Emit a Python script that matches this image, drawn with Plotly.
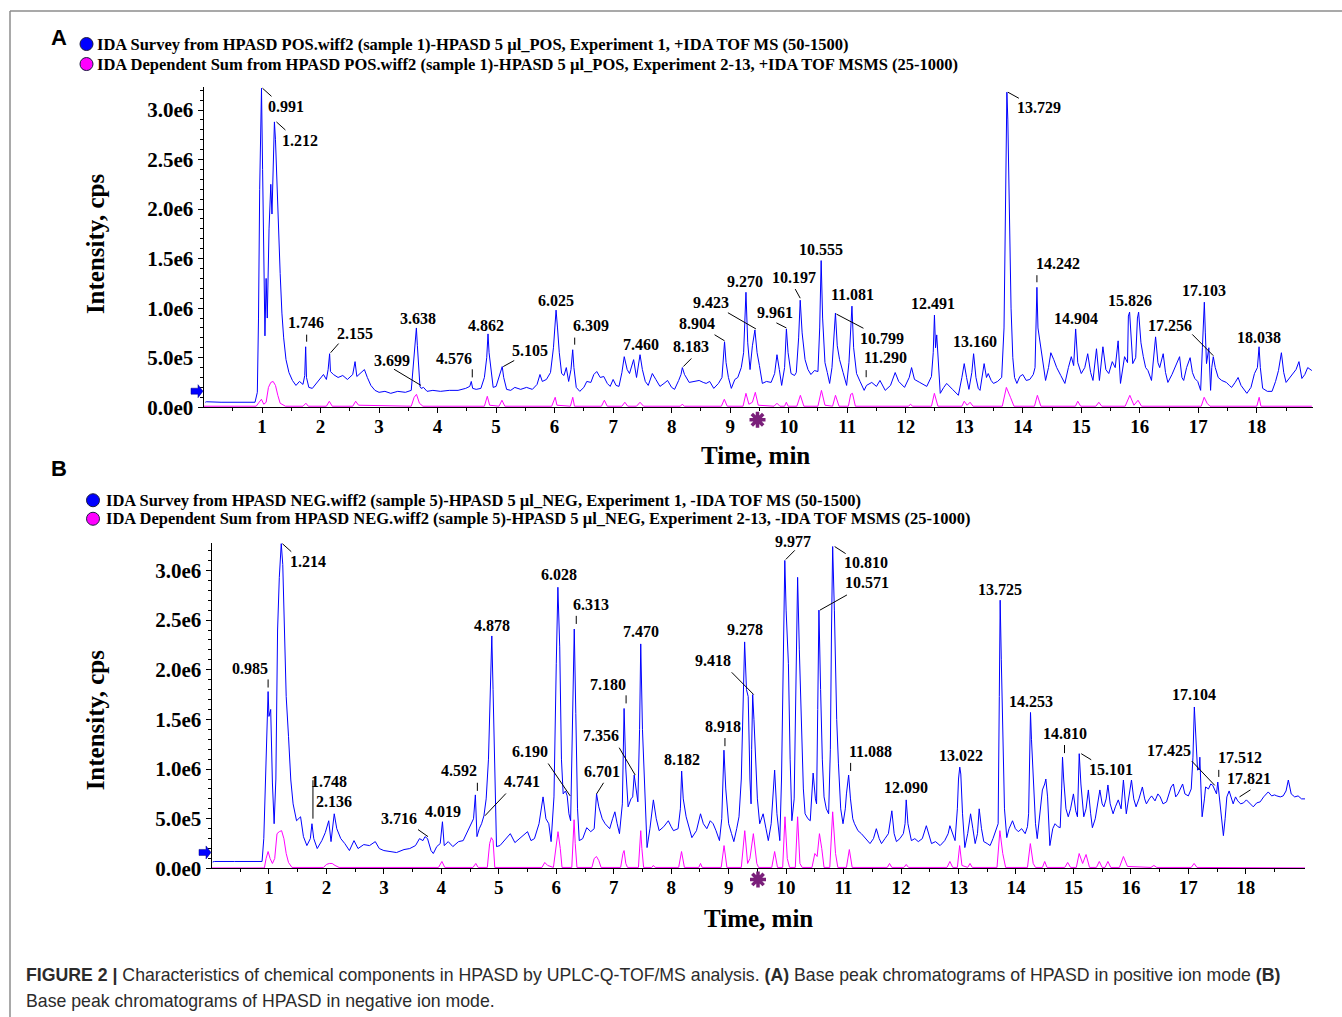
import plotly.graph_objects as go

W = 1342
H = 1030          # figure height in page pixels
SY = 1029.5 / 1017  # vertical layout scale from the 1017-px design grid to page pixels

# ---------------- Panel A: positive ion mode (intensity in 1e6 cps) ----------------
pos_survey = [
    (0.03, 0.05), (0.05, 0.055), (0.30, 0.05), (0.60, 0.05), (0.88, 0.05), (0.92, 0.15),
    (0.94, 0.9), (0.96, 2.2), (0.991, 3.22), (1.01, 2.4), (1.03, 1.35), (1.05, 0.72),
    (1.07, 1.3), (1.09, 0.9), (1.12, 1.8), (1.15, 2.25), (1.17, 1.95), (1.19, 2.4),
    (1.212, 2.88), (1.23, 2.7), (1.25, 2.35), (1.28, 1.7), (1.31, 1.35), (1.34, 0.95),
    (1.37, 0.7), (1.41, 0.48), (1.46, 0.35), (1.52, 0.27), (1.58, 0.22), (1.64, 0.26),
    (1.70, 0.23), (1.73, 0.32), (1.746, 0.61), (1.76, 0.30), (1.80, 0.20), (1.86, 0.19),
    (1.93, 0.24), (2.00, 0.30), (2.05, 0.33), (2.10, 0.28), (2.13, 0.38), (2.155, 0.54),
    (2.17, 0.36), (2.22, 0.33), (2.30, 0.30), (2.38, 0.32), (2.46, 0.28), (2.55, 0.33),
    (2.59, 0.46), (2.62, 0.31), (2.68, 0.34), (2.75, 0.38), (2.80, 0.30), (2.86, 0.22),
    (2.93, 0.17), (3.00, 0.15), (3.10, 0.16), (3.20, 0.14), (3.32, 0.16), (3.45, 0.15),
    (3.55, 0.17), (3.59, 0.45), (3.62, 0.70), (3.638, 0.80), (3.655, 0.62), (3.67, 0.45),
    (3.685, 0.26), (3.699, 0.21), (3.72, 0.19), (3.76, 0.20), (3.82, 0.16), (3.92, 0.17),
    (4.05, 0.16), (4.20, 0.17), (4.35, 0.17), (4.48, 0.19), (4.55, 0.21), (4.576, 0.26),
    (4.60, 0.19), (4.66, 0.18), (4.74, 0.19), (4.80, 0.30), (4.84, 0.50), (4.862, 0.74),
    (4.88, 0.55), (4.91, 0.40), (4.95, 0.20), (5.00, 0.21), (5.05, 0.30), (5.08, 0.36),
    (5.105, 0.41), (5.13, 0.30), (5.18, 0.18), (5.25, 0.17), (5.32, 0.20), (5.42, 0.18),
    (5.52, 0.20), (5.62, 0.18), (5.70, 0.23), (5.75, 0.33), (5.79, 0.26), (5.86, 0.28),
    (5.93, 0.35), (5.98, 0.60), (6.025, 0.98), (6.05, 0.80), (6.08, 0.55), (6.12, 0.34),
    (6.16, 0.32), (6.20, 0.40), (6.24, 0.26), (6.28, 0.38), (6.309, 0.58), (6.33, 0.40),
    (6.37, 0.20), (6.43, 0.16), (6.50, 0.20), (6.55, 0.26), (6.62, 0.25), (6.67, 0.33),
    (6.72, 0.36), (6.78, 0.30), (6.84, 0.31), (6.90, 0.24), (6.95, 0.21), (7.00, 0.28),
    (7.05, 0.22), (7.10, 0.21), (7.15, 0.35), (7.19, 0.51), (7.24, 0.38), (7.28, 0.34),
    (7.35, 0.48), (7.40, 0.30), (7.43, 0.42), (7.460, 0.53), (7.50, 0.38), (7.55, 0.26),
    (7.60, 0.22), (7.67, 0.34), (7.73, 0.28), (7.80, 0.21), (7.87, 0.24), (7.93, 0.27),
    (8.00, 0.20), (8.05, 0.18), (8.12, 0.27), (8.16, 0.33), (8.183, 0.40), (8.22, 0.33),
    (8.30, 0.25), (8.38, 0.26), (8.47, 0.27), (8.54, 0.25), (8.59, 0.24), (8.65, 0.26),
    (8.72, 0.19), (8.80, 0.24), (8.86, 0.30), (8.904, 0.66), (8.93, 0.45), (8.97, 0.30),
    (9.02, 0.19), (9.08, 0.28), (9.13, 0.30), (9.19, 0.40), (9.23, 0.55), (9.270, 1.16),
    (9.30, 0.65), (9.34, 0.38), (9.38, 0.62), (9.423, 0.78), (9.46, 0.55), (9.50, 0.42),
    (9.55, 0.24), (9.62, 0.26), (9.70, 0.25), (9.76, 0.34), (9.80, 0.53), (9.84, 0.38),
    (9.88, 0.22), (9.93, 0.40), (9.961, 0.79), (9.99, 0.55), (10.04, 0.34), (10.10, 0.32),
    (10.13, 0.35), (10.17, 0.70), (10.197, 1.08), (10.23, 0.75), (10.28, 0.48), (10.33, 0.38),
    (10.38, 0.33), (10.44, 0.37), (10.50, 0.36), (10.53, 0.80), (10.555, 1.48), (10.58, 0.90),
    (10.62, 0.45), (10.66, 0.35), (10.70, 0.24), (10.74, 0.40), (10.77, 0.75), (10.799, 0.95),
    (10.83, 0.62), (10.87, 0.48), (10.93, 0.35), (10.99, 0.22), (11.03, 0.45), (11.06, 0.80),
    (11.081, 1.02), (11.11, 0.60), (11.16, 0.34), (11.22, 0.26), (11.25, 0.22), (11.290, 0.17),
    (11.33, 0.22), (11.42, 0.25), (11.50, 0.21), (11.56, 0.27), (11.65, 0.17), (11.74, 0.22),
    (11.82, 0.35), (11.88, 0.26), (11.98, 0.20), (12.06, 0.30), (12.10, 0.40), (12.15, 0.28),
    (12.24, 0.25), (12.36, 0.21), (12.44, 0.31), (12.47, 0.55), (12.491, 0.93), (12.51, 0.60),
    (12.53, 0.73), (12.56, 0.40), (12.59, 0.14), (12.65, 0.20), (12.70, 0.24), (12.80, 0.18),
    (12.90, 0.12), (12.96, 0.30), (13.00, 0.44), (13.04, 0.30), (13.08, 0.18), (13.13, 0.35),
    (13.160, 0.54), (13.20, 0.30), (13.24, 0.19), (13.27, 0.17), (13.31, 0.35), (13.34, 0.44),
    (13.38, 0.30), (13.41, 0.34), (13.46, 0.27), (13.50, 0.24), (13.57, 0.26), (13.64, 0.30),
    (13.68, 0.80), (13.70, 1.80), (13.715, 2.70), (13.729, 3.18), (13.745, 2.90), (13.77, 2.00),
    (13.80, 1.00), (13.83, 0.50), (13.86, 0.30), (13.90, 0.24), (13.95, 0.31), (14.00, 0.33),
    (14.06, 0.27), (14.12, 0.28), (14.18, 0.33), (14.21, 0.40), (14.225, 0.70), (14.242, 1.21),
    (14.26, 0.80), (14.30, 0.62), (14.34, 0.45), (14.39, 0.27), (14.44, 0.40), (14.48, 0.55),
    (14.53, 0.48), (14.58, 0.40), (14.65, 0.32), (14.72, 0.24), (14.78, 0.40), (14.83, 0.51),
    (14.87, 0.42), (14.904, 0.79), (14.94, 0.45), (15.00, 0.34), (15.06, 0.40), (15.11, 0.54),
    (15.16, 0.35), (15.20, 0.27), (15.26, 0.59), (15.31, 0.27), (15.37, 0.61), (15.42, 0.38),
    (15.47, 0.34), (15.53, 0.46), (15.58, 0.40), (15.63, 0.67), (15.67, 0.24), (15.74, 0.51),
    (15.79, 0.45), (15.805, 0.92), (15.826, 0.96), (15.85, 0.70), (15.88, 0.44), (15.93, 0.50),
    (15.96, 0.90), (15.98, 0.96), (16.02, 0.65), (16.06, 0.51), (16.10, 0.40), (16.14, 0.37),
    (16.20, 0.27), (16.27, 0.71), (16.31, 0.45), (16.34, 0.40), (16.40, 0.54), (16.44, 0.35),
    (16.48, 0.25), (16.55, 0.33), (16.60, 0.40), (16.68, 0.51), (16.72, 0.30), (16.75, 0.27),
    (16.80, 0.40), (16.86, 0.50), (16.90, 0.35), (16.94, 0.29), (16.99, 0.26), (17.04, 0.17),
    (17.07, 0.60), (17.09, 0.90), (17.103, 1.06), (17.12, 0.75), (17.14, 0.44), (17.18, 0.60),
    (17.21, 0.17), (17.23, 0.40), (17.256, 0.51), (17.29, 0.40), (17.34, 0.30), (17.40, 0.27),
    (17.48, 0.25), (17.53, 0.22), (17.57, 0.20), (17.63, 0.25), (17.68, 0.30), (17.73, 0.22),
    (17.78, 0.18), (17.83, 0.14), (17.90, 0.20), (17.96, 0.34), (18.01, 0.40), (18.038, 0.61),
    (18.06, 0.40), (18.10, 0.19), (18.18, 0.16), (18.26, 0.16), (18.32, 0.26), (18.37, 0.37),
    (18.42, 0.55), (18.46, 0.35), (18.50, 0.25), (18.56, 0.30), (18.61, 0.34), (18.67, 0.38),
    (18.72, 0.46), (18.77, 0.29), (18.82, 0.33), (18.87, 0.40), (18.94, 0.37),
]

pos_dependent = [
    (0.00, 0.01), (0.90, 0.01), (0.95, 0.05), (0.99, 0.08), (1.03, 0.03), (1.07, 0.05),
    (1.11, 0.20), (1.15, 0.25), (1.19, 0.26), (1.23, 0.22), (1.27, 0.12), (1.31, 0.04),
    (1.40, 0.01), (1.70, 0.01), (1.75, 0.04), (1.79, 0.01), (2.10, 0.01), (2.15, 0.06),
    (2.20, 0.01), (2.55, 0.01), (2.60, 0.06), (2.65, 0.02), (3.55, 0.01), (3.60, 0.10),
    (3.64, 0.13), (3.69, 0.04), (3.75, 0.01), (4.80, 0.01), (4.85, 0.11), (4.89, 0.02),
    (5.05, 0.01), (5.10, 0.07), (5.15, 0.01), (5.95, 0.01), (6.01, 0.10), (6.04, 0.02),
    (6.27, 0.01), (6.31, 0.10), (6.34, 0.01), (6.80, 0.01), (6.85, 0.07), (6.90, 0.01),
    (7.15, 0.01), (7.20, 0.05), (7.25, 0.01), (7.40, 0.01), (7.46, 0.05), (7.52, 0.01),
    (8.15, 0.01), (8.18, 0.03), (8.22, 0.01), (8.85, 0.01), (8.90, 0.08), (8.95, 0.01),
    (9.22, 0.01), (9.27, 0.14), (9.32, 0.03), (9.38, 0.05), (9.43, 0.15), (9.48, 0.02),
    (9.75, 0.01), (9.80, 0.04), (9.85, 0.01), (9.93, 0.01), (9.96, 0.05), (9.99, 0.01),
    (10.14, 0.01), (10.20, 0.12), (10.26, 0.01), (10.50, 0.01), (10.56, 0.17), (10.62, 0.02),
    (10.75, 0.01), (10.80, 0.12), (10.86, 0.01), (11.02, 0.01), (11.06, 0.13), (11.09, 0.14),
    (11.14, 0.01), (12.05, 0.01), (12.08, 0.03), (12.12, 0.01), (12.44, 0.01), (12.49, 0.14),
    (12.55, 0.01), (12.96, 0.01), (13.00, 0.06), (13.05, 0.02), (13.10, 0.05), (13.15, 0.01),
    (13.65, 0.01), (13.72, 0.20), (13.79, 0.10), (13.85, 0.01), (14.20, 0.01), (14.25, 0.12),
    (14.31, 0.01), (14.90, 0.01), (14.94, 0.06), (14.99, 0.01), (15.25, 0.01), (15.30, 0.05),
    (15.35, 0.01), (15.75, 0.01), (15.83, 0.12), (15.90, 0.02), (15.97, 0.07), (16.03, 0.01),
    (17.05, 0.01), (17.10, 0.10), (17.15, 0.04), (17.20, 0.01), (18.00, 0.01), (18.04, 0.10),
    (18.07, 0.01), (18.94, 0.01),
]

pos_labels = ["0.991", "1.212", "1.746", "2.155", "3.638", "3.699", "4.576", "4.862",
              "5.105", "6.025", "6.309", "7.460", "8.183", "8.904", "9.270", "9.423",
              "9.961", "10.197", "10.555", "10.799", "11.081", "11.290", "12.491",
              "13.160", "13.729", "14.242", "14.904", "15.826", "17.103", "17.256", "18.038"]

# ---------------- Panel B: negative ion mode (intensity in 1e6 cps) ----------------
neg_survey = [
    (0.02, 0.065), (0.05, 0.07), (0.40, 0.07), (0.88, 0.07), (0.91, 0.30), (0.94, 1.00),
    (0.965, 1.60), (0.985, 1.78), (1.00, 1.53), (1.03, 1.60), (1.06, 0.86), (1.09, 0.45),
    (1.12, 0.90), (1.15, 2.40), (1.18, 2.93), (1.214, 3.27), (1.24, 3.06), (1.27, 2.40),
    (1.30, 1.73), (1.34, 1.33), (1.38, 0.89), (1.42, 0.65), (1.48, 0.48), (1.55, 0.52),
    (1.60, 0.32), (1.66, 0.23), (1.72, 0.30), (1.748, 0.45), (1.78, 0.30), (1.84, 0.20),
    (1.92, 0.28), (1.98, 0.36), (2.04, 0.48), (2.08, 0.27), (2.11, 0.42), (2.136, 0.55),
    (2.18, 0.40), (2.25, 0.30), (2.32, 0.25), (2.40, 0.18), (2.48, 0.28), (2.55, 0.20),
    (2.65, 0.24), (2.75, 0.23), (2.85, 0.27), (2.92, 0.20), (3.00, 0.18), (3.10, 0.17),
    (3.22, 0.16), (3.35, 0.19), (3.45, 0.20), (3.55, 0.23), (3.62, 0.30), (3.68, 0.28),
    (3.716, 0.32), (3.76, 0.30), (3.82, 0.18), (3.86, 0.15), (3.92, 0.22), (3.98, 0.25),
    (4.019, 0.47), (4.05, 0.23), (4.12, 0.27), (4.20, 0.22), (4.30, 0.27), (4.38, 0.28),
    (4.45, 0.37), (4.52, 0.45), (4.56, 0.50), (4.592, 0.74), (4.62, 0.32), (4.66, 0.40),
    (4.70, 0.45), (4.741, 0.53), (4.78, 0.70), (4.82, 1.10), (4.85, 1.80), (4.878, 2.34),
    (4.90, 1.80), (4.93, 0.80), (4.96, 0.22), (5.02, 0.23), (5.10, 0.28), (5.20, 0.35),
    (5.28, 0.26), (5.36, 0.30), (5.44, 0.34), (5.50, 0.37), (5.56, 0.28), (5.62, 0.30),
    (5.70, 0.45), (5.77, 0.72), (5.82, 0.50), (5.87, 0.45), (5.91, 0.27), (5.96, 0.72),
    (6.00, 2.06), (6.028, 2.83), (6.06, 2.23), (6.09, 1.10), (6.12, 0.75), (6.16, 0.78),
    (6.190, 0.73), (6.22, 0.55), (6.25, 0.48), (6.28, 1.40), (6.313, 2.41), (6.34, 1.56),
    (6.37, 0.60), (6.40, 0.28), (6.46, 0.30), (6.53, 0.41), (6.60, 0.37), (6.66, 0.40),
    (6.701, 0.75), (6.74, 0.62), (6.80, 0.50), (6.85, 0.45), (6.93, 0.40), (6.98, 0.50),
    (7.02, 0.57), (7.06, 0.45), (7.10, 0.35), (7.15, 0.65), (7.180, 1.61), (7.21, 1.00),
    (7.25, 0.62), (7.30, 0.70), (7.33, 0.72), (7.356, 0.94), (7.39, 0.80), (7.42, 0.67),
    (7.45, 1.40), (7.470, 2.26), (7.50, 1.40), (7.54, 0.72), (7.58, 0.21), (7.63, 0.40),
    (7.69, 0.69), (7.74, 0.50), (7.79, 0.38), (7.87, 0.42), (7.95, 0.48), (8.00, 0.42),
    (8.04, 0.38), (8.12, 0.40), (8.16, 0.60), (8.182, 0.98), (8.21, 0.70), (8.26, 0.52),
    (8.31, 0.40), (8.36, 0.31), (8.44, 0.38), (8.51, 0.55), (8.56, 0.45), (8.62, 0.40),
    (8.68, 0.48), (8.73, 0.45), (8.78, 0.38), (8.84, 0.28), (8.88, 0.50), (8.918, 1.19),
    (8.95, 0.80), (9.00, 0.45), (9.05, 0.35), (9.09, 0.27), (9.14, 0.40), (9.18, 0.52),
    (9.22, 0.90), (9.24, 1.39), (9.278, 2.28), (9.31, 1.80), (9.34, 1.73), (9.37, 0.90),
    (9.39, 0.65), (9.40, 1.20), (9.418, 1.75), (9.44, 1.50), (9.47, 1.06), (9.50, 0.70),
    (9.54, 0.45), (9.60, 0.55), (9.65, 0.40), (9.69, 0.28), (9.74, 0.45), (9.80, 0.99),
    (9.84, 0.55), (9.89, 0.28), (9.92, 0.90), (9.94, 1.73), (9.955, 2.60), (9.977, 3.10),
    (10.00, 2.60), (10.04, 2.06), (10.07, 1.10), (10.10, 0.48), (10.14, 0.70), (10.17, 1.80),
    (10.20, 2.93), (10.23, 2.20), (10.27, 1.39), (10.30, 0.80), (10.33, 0.55), (10.38, 0.50),
    (10.42, 0.48), (10.47, 0.96), (10.51, 0.70), (10.53, 0.65), (10.55, 1.60), (10.571, 2.60),
    (10.60, 1.80), (10.63, 1.10), (10.66, 0.72), (10.70, 0.60), (10.74, 0.55), (10.77, 1.20),
    (10.79, 2.40), (10.810, 3.24), (10.84, 2.60), (10.88, 1.50), (10.91, 1.06), (10.95, 0.60),
    (10.99, 0.45), (11.03, 0.60), (11.05, 0.75), (11.088, 0.94), (11.12, 0.70), (11.16, 0.50),
    (11.19, 0.45), (11.25, 0.38), (11.31, 0.35), (11.38, 0.30), (11.46, 0.25), (11.52, 0.30),
    (11.57, 0.40), (11.62, 0.30), (11.66, 0.25), (11.72, 0.30), (11.78, 0.35), (11.84, 0.58),
    (11.88, 0.35), (11.92, 0.27), (11.98, 0.30), (12.04, 0.35), (12.07, 0.45), (12.090, 0.69),
    (12.12, 0.45), (12.18, 0.28), (12.24, 0.30), (12.30, 0.27), (12.37, 0.30), (12.44, 0.43),
    (12.48, 0.35), (12.53, 0.25), (12.60, 0.27), (12.68, 0.23), (12.76, 0.28), (12.82, 0.35),
    (12.85, 0.43), (12.90, 0.35), (12.94, 0.28), (12.98, 0.60), (13.00, 0.90), (13.022, 1.02),
    (13.04, 0.95), (13.07, 0.55), (13.11, 0.21), (13.16, 0.35), (13.21, 0.55), (13.25, 0.40),
    (13.29, 0.25), (13.33, 0.35), (13.36, 0.60), (13.40, 0.40), (13.44, 0.27), (13.50, 0.25),
    (13.55, 0.23), (13.60, 0.30), (13.63, 0.35), (13.67, 0.40), (13.69, 0.45), (13.71, 1.73),
    (13.725, 2.70), (13.745, 2.10), (13.77, 1.39), (13.80, 0.60), (13.84, 0.31), (13.88, 0.40),
    (13.94, 0.48), (13.99, 0.40), (14.04, 0.37), (14.10, 0.40), (14.16, 0.35), (14.20, 0.42),
    (14.22, 0.55), (14.235, 1.20), (14.253, 1.57), (14.27, 1.30), (14.30, 0.89), (14.34, 0.45),
    (14.37, 0.30), (14.42, 0.55), (14.46, 0.79), (14.50, 0.85), (14.52, 0.90), (14.55, 0.72),
    (14.59, 0.23), (14.64, 0.40), (14.68, 0.45), (14.73, 0.42), (14.77, 0.41), (14.795, 0.80),
    (14.810, 1.12), (14.83, 0.90), (14.87, 0.60), (14.91, 0.52), (14.95, 0.60), (15.00, 0.75),
    (15.04, 0.58), (15.07, 0.52), (15.085, 0.90), (15.101, 1.155), (15.13, 0.85), (15.18, 0.52),
    (15.22, 0.60), (15.26, 0.79), (15.30, 0.55), (15.33, 0.41), (15.38, 0.50), (15.42, 0.65),
    (15.46, 0.79), (15.50, 0.65), (15.53, 0.62), (15.57, 0.70), (15.60, 0.84), (15.64, 0.65),
    (15.69, 0.55), (15.73, 0.62), (15.78, 0.69), (15.83, 0.60), (15.87, 0.89), (15.92, 0.55),
    (15.96, 0.70), (16.01, 0.89), (16.05, 0.70), (16.09, 0.62), (16.14, 0.70), (16.20, 0.82),
    (16.24, 0.70), (16.27, 0.65), (16.32, 0.70), (16.36, 0.73), (16.42, 0.68), (16.47, 0.75),
    (16.51, 0.72), (16.56, 0.65), (16.62, 0.67), (16.66, 0.75), (16.70, 0.82), (16.74, 0.85),
    (16.78, 0.72), (16.82, 0.75), (16.86, 0.80), (16.90, 0.85), (16.94, 0.75), (17.00, 0.73),
    (17.05, 0.80), (17.08, 1.12), (17.104, 1.625), (17.13, 1.30), (17.16, 0.99), (17.19, 1.00),
    (17.20, 1.12), (17.22, 0.80), (17.24, 0.52), (17.28, 0.70), (17.30, 0.82), (17.35, 0.80),
    (17.39, 0.85), (17.425, 0.836), (17.46, 0.78), (17.49, 0.75), (17.512, 0.87), (17.54, 0.70),
    (17.58, 0.50), (17.61, 0.33), (17.64, 0.50), (17.67, 0.72), (17.71, 0.78), (17.75, 0.70),
    (17.78, 0.65), (17.821, 0.72), (17.86, 0.68), (17.91, 0.65), (17.96, 0.66), (18.01, 0.69),
    (18.07, 0.65), (18.13, 0.62), (18.19, 0.66), (18.25, 0.67), (18.31, 0.72), (18.36, 0.75),
    (18.39, 0.77), (18.45, 0.73), (18.50, 0.74), (18.54, 0.73), (18.60, 0.72), (18.65, 0.73),
    (18.70, 0.78), (18.74, 0.89), (18.79, 0.75), (18.85, 0.72), (18.91, 0.73), (18.97, 0.70),
    (19.03, 0.70),
]

neg_dependent = [
    (0.00, 0.005), (0.92, 0.005), (0.95, 0.10), (0.985, 0.17), (1.02, 0.10), (1.06, 0.05),
    (1.10, 0.10), (1.14, 0.35), (1.18, 0.37), (1.22, 0.38), (1.26, 0.30), (1.30, 0.15),
    (1.34, 0.06), (1.40, 0.01), (1.95, 0.01), (2.00, 0.04), (2.05, 0.05), (2.10, 0.05),
    (2.15, 0.03), (2.22, 0.01), (3.95, 0.01), (4.01, 0.07), (4.06, 0.01), (4.55, 0.01),
    (4.60, 0.05), (4.64, 0.01), (4.80, 0.01), (4.84, 0.25), (4.87, 0.31), (4.90, 0.28),
    (4.93, 0.01), (5.75, 0.01), (5.80, 0.06), (5.85, 0.03), (5.95, 0.01), (6.00, 0.25),
    (6.03, 0.37), (6.07, 0.20), (6.10, 0.01), (6.27, 0.01), (6.29, 0.30), (6.31, 0.49),
    (6.33, 0.25), (6.36, 0.01), (6.62, 0.01), (6.66, 0.10), (6.70, 0.12), (6.74, 0.08),
    (6.78, 0.01), (7.12, 0.01), (7.16, 0.15), (7.18, 0.18), (7.21, 0.05), (7.24, 0.01),
    (7.43, 0.01), (7.45, 0.25), (7.47, 0.38), (7.49, 0.20), (7.52, 0.01), (7.66, 0.01),
    (7.69, 0.03), (7.72, 0.01), (8.13, 0.01), (8.18, 0.17), (8.23, 0.01), (8.48, 0.01),
    (8.51, 0.05), (8.54, 0.01), (8.87, 0.01), (8.92, 0.23), (8.97, 0.01), (9.22, 0.01),
    (9.28, 0.38), (9.33, 0.05), (9.37, 0.10), (9.43, 0.35), (9.49, 0.05), (9.52, 0.01),
    (9.75, 0.01), (9.80, 0.17), (9.85, 0.01), (9.94, 0.01), (9.98, 0.52), (10.02, 0.10),
    (10.06, 0.01), (10.16, 0.01), (10.20, 0.52), (10.24, 0.05), (10.28, 0.01), (10.45, 0.01),
    (10.50, 0.15), (10.54, 0.12), (10.58, 0.35), (10.62, 0.20), (10.66, 0.01), (10.76, 0.01),
    (10.81, 0.57), (10.86, 0.15), (10.90, 0.01), (11.05, 0.01), (11.10, 0.19), (11.15, 0.01),
    (11.76, 0.01), (11.80, 0.05), (11.84, 0.01), (12.05, 0.01), (12.09, 0.04), (12.13, 0.01),
    (12.80, 0.01), (12.85, 0.07), (12.90, 0.01), (12.98, 0.01), (13.02, 0.23), (13.06, 0.03),
    (13.16, 0.01), (13.20, 0.05), (13.24, 0.01), (13.67, 0.01), (13.72, 0.38), (13.77, 0.15),
    (13.82, 0.01), (14.20, 0.01), (14.25, 0.25), (14.30, 0.05), (14.34, 0.01), (14.46, 0.01),
    (14.50, 0.07), (14.54, 0.01), (14.85, 0.01), (14.90, 0.06), (14.95, 0.01), (15.05, 0.01),
    (15.10, 0.15), (15.16, 0.05), (15.22, 0.14), (15.28, 0.01), (15.40, 0.01), (15.45, 0.07),
    (15.50, 0.01), (15.55, 0.01), (15.60, 0.07), (15.65, 0.01), (15.80, 0.01), (15.87, 0.12),
    (15.94, 0.02), (16.35, 0.01), (16.40, 0.03), (16.45, 0.01), (17.05, 0.01), (17.10, 0.05),
    (17.15, 0.01), (19.03, 0.005),
]

neg_labels = ["0.985", "1.214", "1.748", "2.136", "3.716", "4.019", "4.592", "4.741",
              "4.878", "6.028", "6.190", "6.313", "6.701", "7.180", "7.356", "7.470",
              "8.182", "8.918", "9.278", "9.418", "9.977", "10.571", "10.810", "11.088",
              "12.090", "13.022", "13.725", "14.253", "14.810", "15.101", "17.104",
              "17.425", "17.512", "17.821"]

y_tick_vals = [0.0, 0.5, 1.0, 1.5, 2.0, 2.5, 3.0]
y_tick_text = ["0.0e0", "5.0e5", "1.0e6", "1.5e6", "2.0e6", "2.5e6", "3.0e6"]
x_tick_vals = list(range(1, 19))

legend_a = [
    "IDA Survey from HPASD POS.wiff2 (sample 1)-HPASD 5 µl_POS, Experiment 1, +IDA TOF MS (50-1500)",
    "IDA Dependent Sum from HPASD POS.wiff2 (sample 1)-HPASD 5 µl_POS, Experiment 2-13, +IDA TOF MSMS (25-1000)",
]
legend_b = [
    "IDA Survey from HPASD NEG.wiff2 (sample 5)-HPASD 5 µl_NEG, Experiment 1, -IDA TOF MS (50-1500)",
    "IDA Dependent Sum from HPASD NEG.wiff2 (sample 5)-HPASD 5 µl_NEG, Experiment 2-13, -IDA TOF MSMS (25-1000)",
]

# Label placement: text centre offset (dx, dy) and optional leader segment,
# in screen pixels relative to the peak apex (dy positive = downwards).
pos_label_place = {
    "0.991": (25, 18, (1, 0, 10, 8)), "1.212": (26, 18, (2, 0, 11, 8)),
    "1.746": (0, -24, (1, -12, 1, -5)), "2.155": (25, -20, (1, -1, 9, -10)),
    "3.638": (2, -9, None), "3.699": (-28, -26, (-26, -17, 1, -1)),
    "4.576": (-17, -23, (1, -12, 1, -4)), "4.862": (-2, -8, None),
    "5.105": (28, -16, (1, 0, 12, -6)), "6.025": (0, -10, None),
    "6.309": (18, -24, (2, -12, 2, -5)), "7.460": (1, -10, None),
    "8.183": (9, -21, (1, -1, 9, -9)), "8.904": (-28, -18, (-10, -7, 0, -1)),
    "9.270": (-1, -11, None), "9.423": (-44, -27, (-27, -17, 1, -1)),
    "9.961": (-11, -16, (-10, -6, 0, -1)), "10.197": (-6, -22, (-5, -11, 0, -2)),
    "10.555": (0, -11, None), "10.799": (47, 25, (1, 1, 28, 15)),
    "11.081": (1, -12, None), "11.290": (21, -32, (2, -20, 2, -13)),
    "12.491": (-1, -11, None), "13.160": (1, -12, None),
    "13.729": (32, 15, (1, 0, 12, 6)), "14.242": (21, -24, (0, -12, 0, -5)),
    "14.904": (0, -10, None), "15.826": (0, -11, None), "17.103": (0, -12, None),
    "17.256": (-43, -31, (-21, -22, 0, -1)), "18.038": (0, -9, None),
}
neg_label_place = {
    "0.985": (-18, -23, (0, -12, 0, -4)), "1.214": (27, 18, (1, 0, 10, 8)),
    "1.748": (17, -42, (1, -43, 1, -5)), "2.136": (0, -12, None),
    "3.716": (-26, -18, (-7, -7, 3, 0)), "4.019": (1, -10, None),
    "4.592": (-16, -24, (2, -12, 2, -4)), "4.741": (38, -34, (1, 0, 22, -22)),
    "4.878": (0, -10, None), "6.028": (1, -13, None),
    "6.190": (-37, -44, (-19, -32, 3, 0)), "6.313": (17, -24, (2, -13, 2, -5)),
    "6.701": (5, -22, (0, 0, 7, -11)), "7.180": (-16, -24, (2, -13, 2, -5)),
    "7.356": (-33, -39, (-15, -27, 1, 0)), "7.470": (0, -12, None),
    "8.182": (0, -11, None), "8.918": (-1, -23, (1, -12, 1, -4)),
    "9.278": (0, -12, None), "9.418": (-40, -34, (-21, -22, 1, 0)),
    "9.977": (8, -19, (1, -1, 10, -10)), "10.571": (48, -27, (1, 0, 28, -15)),
    "10.810": (33, 16, (2, 0, 13, 7)), "11.088": (22, -23, (2, -12, 2, -4)),
    "12.090": (0, -12, None), "13.022": (1, -11, None), "13.725": (0, -11, None),
    "14.253": (0, -11, None), "14.810": (2, -23, (2, -12, 2, -4)),
    "15.101": (32, 16, (2, 0, 12, 6)), "17.104": (0, -12, None),
    "17.425": (-44, -34, (-21, -24, 2, 0)), "17.512": (22, -24, (1, -12, 1, -5)),
    "17.821": (13, -18, (4, 0, 15, -7)),
}

BLUE = "#0000ff"
MAGENTA = "#ff00ff"
SERIF = "Liberation Serif"


def px_x(px):
    return px / W


def px_y(py):
    return 1 - (py * SY) / H


fig = go.Figure()


def add_panel(survey, dependent, xa, ya):
    fig.add_trace(go.Scatter(x=[p[0] for p in survey], y=[p[1] for p in survey], mode="lines",
                             line=dict(color=BLUE, width=1), xaxis=xa, yaxis=ya,
                             showlegend=False, hoverinfo="skip"))
    fig.add_trace(go.Scatter(x=[p[0] for p in dependent], y=[p[1] for p in dependent], mode="lines",
                             line=dict(color=MAGENTA, width=1), xaxis=xa, yaxis=ya,
                             showlegend=False, hoverinfo="skip"))


add_panel(pos_survey, pos_dependent, "x", "y")
add_panel(neg_survey, neg_dependent, "x2", "y2")

axis_common = dict(showline=True, linecolor="black", linewidth=1, showgrid=False, zeroline=False,
                   ticks="outside", tickcolor="black", mirror=False)

x_minor = dict(ticks="outside", ticklen=3, tickcolor="black", tickvals=[i + 0.5 for i in range(19)])
y_minor = dict(ticks="outside", ticklen=3, tickcolor="black", tickvals=[i * 0.1 for i in range(33)])

xtick_font = dict(family=SERIF, size=19, color="black", weight="bold")
ytick_font = dict(family=SERIF, size=21, color="black", weight="bold")

fig.update_layout(
    width=W, height=H,
    margin=dict(l=0, r=0, t=0, b=0),
    paper_bgcolor="white", plot_bgcolor="white",
    xaxis=dict(domain=[px_x(203.5), px_x(1313)], range=[0, 18.96], anchor="y",
               tickvals=x_tick_vals, ticklen=5, minor=x_minor, tickfont=xtick_font,
               ticklabelstandoff=-3, **axis_common),
    yaxis=dict(domain=[px_y(407), px_y(87)], range=[0, 3.232], anchor="x",
               tickvals=y_tick_vals, ticktext=y_tick_text, ticklen=5, minor=y_minor,
               tickfont=ytick_font, **axis_common),
    xaxis2=dict(domain=[px_x(211.5), px_x(1305)], range=[0, 19.03], anchor="y2",
                tickvals=x_tick_vals, ticklen=5, minor=x_minor, tickfont=xtick_font,
                ticklabelstandoff=-3, **axis_common),
    yaxis2=dict(domain=[px_y(868), px_y(543)], range=[0, 3.273], anchor="x2",
                tickvals=y_tick_vals, ticktext=y_tick_text, ticklen=5, minor=y_minor,
                tickfont=ytick_font, **axis_common),
)

label_font = dict(family=SERIF, size=16, color="black", weight="bold")


def add_peak_labels(series, labels, place, xref, yref):
    apex = dict(series)
    for lab in labels:
        t = float(lab)
        yv = apex[t]
        dx, dy, seg = place[lab]
        fig.add_annotation(x=t, y=yv, xref=xref, yref=yref, text=lab, showarrow=False,
                           xshift=dx, yshift=-dy * SY, xanchor="center", yanchor="middle",
                           font=label_font)
        if seg:
            x0, y0, x1, y1 = seg
            fig.add_shape(type="line", xref=xref, yref=yref, xsizemode="pixel", ysizemode="pixel",
                          xanchor=t, yanchor=yv, x0=x0, x1=x1, y0=-y0 * SY, y1=-y1 * SY,
                          line=dict(color="black", width=1))


add_peak_labels(pos_survey, pos_labels, pos_label_place, "x", "y")
add_peak_labels(neg_survey, neg_labels, neg_label_place, "x2", "y2")

# blue start-of-trace arrows beside the intensity axis (tip touching the axis)
arrow_path = "M -12 -3 L -5 -3 L -5 -6.5 L 0 0 L -5 6.5 L -5 3 L -12 3 Z"
for ax_px, ay_px in ((203, 391), (211, 852)):
    fig.add_shape(type="path", xref="paper", yref="paper", xsizemode="pixel", ysizemode="pixel",
                  xanchor=px_x(ax_px), yanchor=px_y(ay_px), path=arrow_path,
                  fillcolor=BLUE, line=dict(color="#000080", width=0.5), layer="above")

# purple asterisk glyphs under the time axis
star_path = "M -8 0 L 8 0 M 0 -8 L 0 8 M -5.7 -5.7 L 5.7 5.7 M -5.7 5.7 L 5.7 -5.7"
for sx, sy in ((757.5, 419.5), (758, 879)):
    fig.add_shape(type="path", xref="paper", yref="paper", xsizemode="pixel", ysizemode="pixel",
                  xanchor=px_x(sx), yanchor=px_y(sy), path=star_path,
                  line=dict(color="#7a1f7a", width=3.5), layer="above")
    fig.add_shape(type="circle", xref="paper", yref="paper", xsizemode="pixel", ysizemode="pixel",
                  xanchor=px_x(sx), yanchor=px_y(sy), x0=-3.5, x1=3.5, y0=-3.5, y1=3.5,
                  fillcolor="#7a1f7a", line=dict(width=0), layer="above")

# axis titles
title_font = dict(family=SERIF, size=25, color="black", weight="bold")
for (tx, ty) in ((756, 455), (758, 918)):
    fig.add_annotation(x=px_x(tx), y=px_y(ty), xref="paper", yref="paper", text="Time, min",
                       showarrow=False, xanchor="center", yanchor="middle", font=title_font)
for (tx, ty) in ((95, 244), (95, 720)):
    fig.add_annotation(x=px_x(tx), y=px_y(ty), xref="paper", yref="paper", text="Intensity, cps",
                       textangle=-90, showarrow=False, xanchor="center", yanchor="middle",
                       font=title_font)

# panel letters
panel_font = dict(family="Liberation Sans", size=22, color="black", weight="bold")
fig.add_annotation(x=px_x(59), y=px_y(37), xref="paper", yref="paper", text="A", showarrow=False,
                   xanchor="center", yanchor="middle", font=panel_font)
fig.add_annotation(x=px_x(59), y=px_y(468), xref="paper", yref="paper", text="B", showarrow=False,
                   xanchor="center", yanchor="middle", font=panel_font)

# trace keys: coloured dots with the run descriptions
key_font = dict(family=SERIF, size=16.5, color="black", weight="bold")
R = 6.5
for texts, cx, tx, rows in ((legend_a, 86.5, 95, (44, 64)), (legend_b, 93, 104, (500, 518.5))):
    for text, cy, col in zip(texts, rows, (BLUE, MAGENTA)):
        fig.add_shape(type="circle", xref="paper", yref="paper",
                      x0=px_x(cx - R), x1=px_x(cx + R), y0=px_y(cy + R), y1=px_y(cy - R),
                      fillcolor=col, line=dict(color="#1a1a40", width=1))
        fig.add_annotation(x=px_x(tx), y=px_y(cy), xref="paper", yref="paper", text=text,
                           showarrow=False, xanchor="left", yanchor="middle", font=key_font)

# outer frame (top and left rules)
fig.add_shape(type="line", xref="paper", yref="paper", x0=px_x(10), x1=1, y0=px_y(11), y1=px_y(11),
              line=dict(color="#8c8c8c", width=1.5))
fig.add_shape(type="line", xref="paper", yref="paper", x0=px_x(10), x1=px_x(10), y0=px_y(11), y1=0,
              line=dict(color="#8c8c8c", width=1.5))

# caption
cap_font = dict(family="Liberation Sans", size=17.7, color="#2b2b2b")
fig.add_annotation(
    x=px_x(24), y=px_y(975), xref="paper", yref="paper", xanchor="left", yanchor="middle",
    showarrow=False, font=cap_font,
    text="<b>FIGURE 2 |</b> Characteristics of chemical components in HPASD by UPLC-Q-TOF/MS analysis. "
         "<b>(A)</b> Base peak chromatograms of HPASD in positive ion mode <b>(B)</b>")
fig.add_annotation(
    x=px_x(24), y=px_y(1001), xref="paper", yref="paper", xanchor="left", yanchor="middle",
    showarrow=False, font=cap_font,
    text="Base peak chromatograms of HPASD in negative ion mode.")

page_css = ("document.documentElement.style.margin='0';"
            "document.body.style.margin='0';")

fig.write_html("out.html", post_script=page_css)
